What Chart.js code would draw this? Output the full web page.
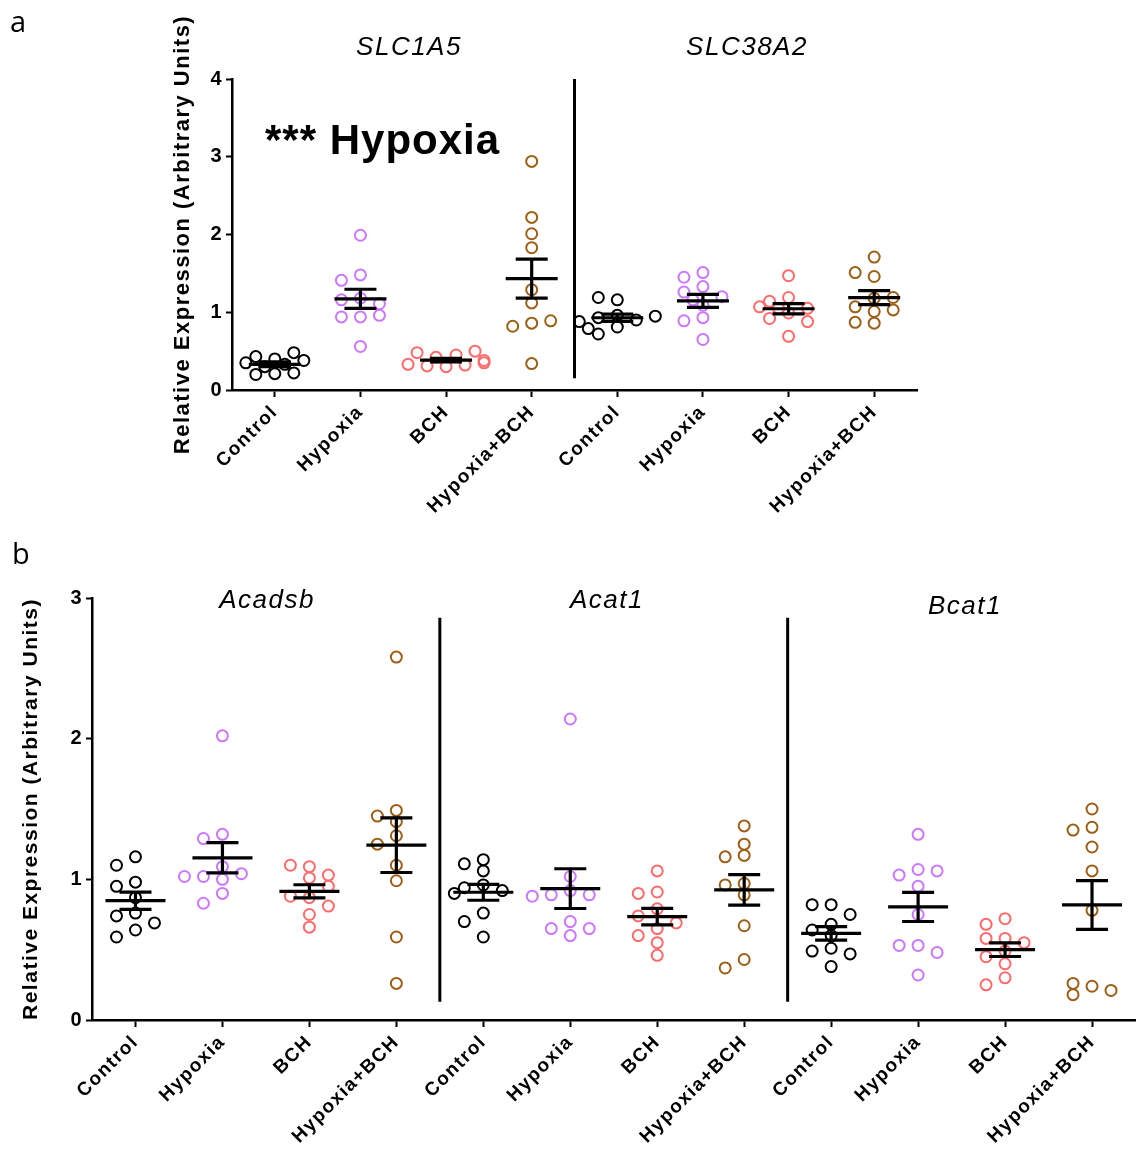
<!DOCTYPE html>
<html>
<head>
<meta charset="utf-8">
<script src="https://cdn.jsdelivr.net/npm/chart.js@4.4.1/dist/chart.umd.min.js"></script>
<style>
  body { margin: 0; background: #fff; width: 1143px; height: 1167px; position: relative; overflow: hidden; font-family: "Liberation Sans", Arial, sans-serif; }
  canvas { position: absolute; left: 0; }
  #chartA { top: 0; }
  #chartB { top: 545px; }
  .lbl { position: absolute; white-space: nowrap; line-height: 1; color: #000; }
  .gene { font-style: italic; font-size: 26px; letter-spacing: 1.5px; transform: translateX(-50%); }
  .panel { font-family: "Open Sans", sans-serif; font-size: 29px; }
  .sig { font-size: 42px; font-weight: bold; letter-spacing: 1px; }
</style>
</head>
<body>
<canvas id="chartA" width="1143" height="545"></canvas>
<canvas id="chartB" width="1143" height="622"></canvas>

<div class="lbl panel" style="left:10px;top:6px">a</div>
<div class="lbl panel" style="left:12px;top:538px">b</div>
<div class="lbl gene" style="left:409px;top:33px">SLC1A5</div>
<div class="lbl gene" style="left:747px;top:33px">SLC38A2</div>
<div class="lbl sig" style="left:265px;top:119px">*** Hypoxia</div>
<div class="lbl gene" style="left:267px;top:586px">Acadsb</div>
<div class="lbl gene" style="left:607px;top:586px">Acat1</div>
<div class="lbl gene" style="left:965px;top:592px">Bcat1</div>

<script>
const groups = ['Control', 'Hypoxia', 'BCH', 'Hypoxia+BCH'];
const groupColors = ['#000000', '#cc77ff', '#ff6b6b', '#9c5f17'];

// values per group: Control, Hypoxia, BCH, Hypoxia+BCH
const slc1a5 = [
    [0.21, 0.20, 0.22, 0.30, 0.33, 0.35, 0.38, 0.40, 0.43, 0.48],
    [1.99, 1.48, 1.41, 1.18, 1.16, 1.11, 0.94, 0.94, 0.96, 0.56],
    [0.30, 0.31, 0.32, 0.33, 0.35, 0.38, 0.42, 0.45, 0.48, 0.50],
    [2.94, 2.22, 2.01, 1.83, 1.29, 1.12, 0.86, 0.82, 0.89, 0.34]
];
const slc38a2 = [
    [1.16, 1.19, 0.96, 0.93, 0.90, 0.88, 0.95, 0.81, 0.79, 0.72],
    [1.51, 1.45, 1.33, 1.26, 1.20, 1.09, 0.93, 0.89, 0.65, 1.16],
    [1.47, 1.19, 1.14, 1.05, 1.05, 0.99, 0.92, 0.88, 0.69, 1.07],
    [1.71, 1.46, 1.51, 1.18, 1.07, 1.01, 1.03, 0.86, 0.87, 1.19]
];
const acadsb = [
    [1.16, 1.10, 0.98, 0.95, 0.87, 0.76, 0.74, 0.69, 0.64, 0.59],
    [2.02, 1.32, 1.29, 1.09, 1.02, 1.04, 1.00, 1.02, 0.90, 0.83],
    [1.09, 1.10, 1.03, 1.01, 0.87, 0.88, 0.81, 0.75, 0.66, 0.95],
    [2.58, 1.49, 1.45, 1.41, 1.31, 1.25, 1.10, 0.99, 0.59, 0.26]
];
const acat1 = [
    [1.14, 1.11, 1.06, 0.96, 0.94, 0.92, 0.90, 0.76, 0.70, 0.59],
    [2.14, 1.02, 0.92, 0.89, 0.89, 0.88, 0.70, 0.65, 0.65, 0.60],
    [1.06, 0.91, 0.90, 0.79, 0.74, 0.65, 0.60, 0.55, 0.46, 0.69],
    [1.38, 1.25, 1.17, 1.16, 0.97, 0.96, 0.89, 0.67, 0.43, 0.37]
];
const bcat1 = [
    [0.82, 0.82, 0.75, 0.68, 0.64, 0.60, 0.51, 0.49, 0.47, 0.38],
    [1.32, 1.07, 1.03, 1.06, 0.95, 0.75, 0.53, 0.53, 0.48, 0.32],
    [0.72, 0.68, 0.58, 0.58, 0.55, 0.49, 0.40, 0.30, 0.25, 0.45],
    [1.50, 1.37, 1.35, 1.23, 1.06, 0.78, 0.24, 0.26, 0.21, 0.18]
];
const yTicksA = [0, 1, 2, 3, 4];
const yTicksB = [0, 1, 2, 3];
const yTitle = 'Relative Expression (Arbitrary Units)';

Chart.defaults.font.family = '"Liberation Sans", Arial, sans-serif';
Chart.defaults.color = '#000';

// spread points of one group sideways so they don't sit on top of each other
function swarm(vals, pxPerY) {
    const placed = [];
    const cand = [0, -19, 19, -10, 10, -29, 29, -38, 38];
    return vals.map(v => {
        const py = v * pxPerY;
        let dx = cand[cand.length - 1];
        for (const c of cand) {
            if (placed.every(p => Math.hypot(p.x - c, p.y - py) >= 11)) { dx = c; break; }
        }
        placed.push({x: dx, y: py});
        return dx;
    });
}

// the printed figure has slightly spaced-out lettering
const spacing = {
    id: 'spacing',
    beforeLayout(chart) { chart.ctx.letterSpacing = '1.5px'; },
    beforeDraw(chart) { chart.ctx.letterSpacing = '1.5px'; }
};

const meanSem = {
    id: 'meanSem',
    beforeDatasetsDraw(chart, args, opts) {
        const {ctx, scales: {x, y}} = chart;
        ctx.save();
        ctx.strokeStyle = '#000';
        ctx.lineWidth = 3;
        opts.dividers.forEach(d => {
            const px = x.getPixelForValue(d);
            ctx.beginPath();
            ctx.moveTo(px, y.getPixelForValue(opts.dividerTop));
            ctx.lineTo(px, y.getPixelForValue(opts.dividerBottom));
            ctx.stroke();
        });
        ctx.restore();
    },
    afterDatasetsDraw(chart, args, opts) {
        const {ctx, scales: {x, y}} = chart;
        ctx.save();
        ctx.strokeStyle = '#000';
        ctx.lineWidth = 3.2;
        chart.data.datasets.forEach(ds => {
            const n = ds.vals.length;
            const m = ds.vals.reduce((a, b) => a + b, 0) / n;
            const sd = Math.sqrt(ds.vals.reduce((a, b) => a + (b - m) * (b - m), 0) / (n - 1));
            const sem = sd / Math.sqrt(n);
            const cx = x.getPixelForValue(ds.pos);
            const ym = y.getPixelForValue(m), yt = y.getPixelForValue(m + sem), yb = y.getPixelForValue(m - sem);
            ctx.beginPath();
            ctx.moveTo(cx - opts.meanHalf, ym); ctx.lineTo(cx + opts.meanHalf, ym);
            ctx.moveTo(cx - opts.capHalf, yt); ctx.lineTo(cx + opts.capHalf, yt);
            ctx.moveTo(cx - opts.capHalf, yb); ctx.lineTo(cx + opts.capHalf, yb);
            ctx.moveTo(cx, yt); ctx.lineTo(cx, yb);
            ctx.stroke();
        });
        ctx.restore();
    }
};

function buildChart(id, sets, cfg) {
    const labels = [];
    const datasets = [];
    const nCat = sets.length * groups.length;
    const pxPerCat = (cfg.right - cfg.left) / nCat;
    const pxPerY = (cfg.bottom - cfg.top) / cfg.yMax;
    sets.forEach((gene, gi) => {
        gene.forEach((vals, k) => {
            const pos = gi * groups.length + k;
            labels.push(groups[k]);
            const offs = swarm(vals, pxPerY);
            datasets.push({
                type: 'scatter',
                vals: vals,
                pos: pos,
                data: vals.map((v, i) => ({x: pos + offs[i] / pxPerCat, y: v})),
                borderColor: groupColors[k],
                backgroundColor: 'rgba(255,255,255,0)',
                pointRadius: 5.5,
                pointHoverRadius: 5.5,
                borderWidth: 2
            });
        });
    });
    const canvas = document.getElementById(id);
    return new Chart(canvas, {
        type: 'scatter',
        data: {datasets: datasets},
        plugins: [spacing, meanSem],
        options: {
            responsive: false,
            animation: false,
            layout: {
                padding: {left: cfg.scaleLeft, top: cfg.top, right: canvas.width - cfg.right, bottom: 0}
            },
            scales: {
                x: {
                    type: 'linear',
                    min: -0.5,
                    max: nCat - 0.5,
                    afterBuildTicks: s => { s.ticks = labels.map((_, i) => ({value: i})); },
                    afterFit: s => { s.height = canvas.height - cfg.bottom; },
                    ticks: {
                        autoSkip: false,
                        minRotation: 45,
                        maxRotation: 45,
                        padding: 4,
                        font: {size: cfg.catFont, weight: 'bold'},
                        callback: v => labels[v]
                    },
                    grid: {drawOnChartArea: false, drawTicks: true, tickLength: 7, tickWidth: 2, tickColor: '#000'},
                    border: {color: '#000', width: 2.5}
                },
                y: {
                    min: 0,
                    max: cfg.yMax,
                    afterBuildTicks: s => { s.ticks = cfg.yTicks.map(v => ({value: v})); },
                    afterFit: s => { s.width = cfg.left - cfg.scaleLeft; },
                    ticks: {
                        padding: 3,
                        font: {size: 20, weight: 'bold'}
                    },
                    grid: {drawOnChartArea: false, drawTicks: true, tickLength: 6, tickWidth: 2, tickColor: '#000'},
                    border: {color: '#000', width: 2.5},
                    title: {
                        display: true,
                        text: yTitle,
                        font: {size: cfg.titleFont, weight: 'bold'},
                        padding: {top: 4, bottom: 4}
                    }
                }
            },
            plugins: {
                legend: {display: false},
                tooltip: {enabled: false},
                meanSem: cfg.bars
            }
        }
    });
}

buildChart('chartA', [slc1a5, slc38a2], {
    left: 232, right: 917, top: 79, bottom: 390, scaleLeft: 166,
    yMax: 4, yTicks: yTicksA, titleFont: 22, catFont: 19,
    bars: {dividers: [3.5], dividerTop: 4, dividerBottom: 0.15, meanHalf: 26, capHalf: 16}
});

buildChart('chartB', [acadsb, acat1, bcat1], {
    left: 92, right: 1136, top: 53, bottom: 475, scaleLeft: 15,
    yMax: 3, yTicks: yTicksB, titleFont: 21, catFont: 19,
    bars: {dividers: [3.5, 7.5], dividerTop: 2.86, dividerBottom: 0.13, meanHalf: 30, capHalf: 16}
});
</script>
</body>
</html>
